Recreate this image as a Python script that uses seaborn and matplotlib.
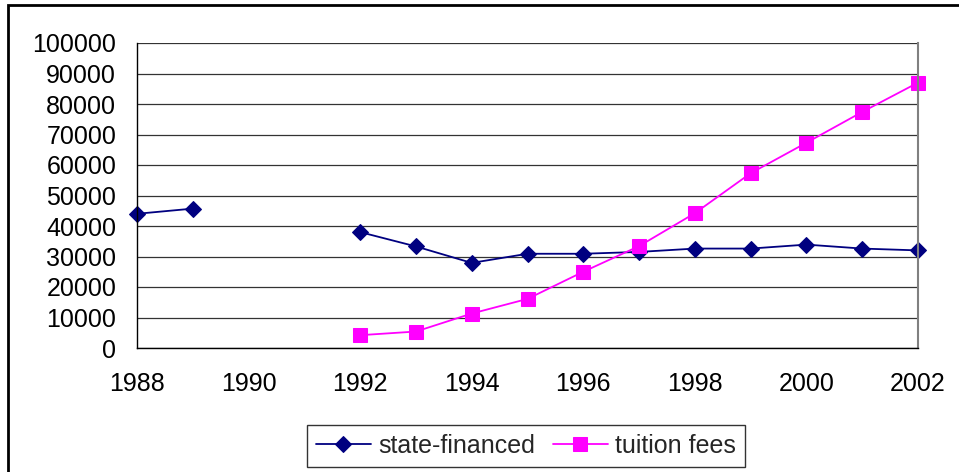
import numpy as np
import pandas as pd
import matplotlib
matplotlib.use("Agg")
import matplotlib.pyplot as plt
import seaborn as sns
from matplotlib.patches import Rectangle

years_state_a = [1988, 1989]
state_a = [44000, 45700]
years_state_b = [1992, 1993, 1994, 1995, 1996, 1997, 1998, 1999, 2000, 2001, 2002]
state_b = [38000, 33300, 27900, 30900, 30900, 31500, 32600, 32600, 33900, 32600, 32000]
years_fees = [1992, 1993, 1994, 1995, 1996, 1997, 1998, 1999, 2000, 2001, 2002]
fees = [4200, 5400, 11300, 16100, 25000, 33400, 44200, 57300, 67300, 77400, 87000]
x_ticks = [1988, 1990, 1992, 1994, 1996, 1998, 2000, 2002]
y_ticks = [0, 10000, 20000, 30000, 40000, 50000, 60000, 70000, 80000, 90000, 100000]

sns.set_style("white")
plt.rcParams['font.family'] = ['Liberation Sans', 'DejaVu Sans']

fig = plt.figure(figsize=(9.59, 4.72), dpi=100)
ax = fig.add_axes([137/959, 1-348/472, (918-137)/959, (348-43)/472])

navy = "#000080"
mag = "#FF00FF"

df_a = pd.DataFrame({"year": years_state_a, "value": state_a})
df_b = pd.DataFrame({"year": years_state_b, "value": state_b})
df_f = pd.DataFrame({"year": years_fees, "value": fees})

sns.lineplot(data=df_a, x="year", y="value", ax=ax, color=navy, marker="D",
             markersize=8, markeredgecolor=navy, linewidth=1.3, clip_on=False)
sns.lineplot(data=df_b, x="year", y="value", ax=ax, color=navy, marker="D",
             markersize=8, markeredgecolor=navy, linewidth=1.3, label="state-financed",
             clip_on=False)
sns.lineplot(data=df_f, x="year", y="value", ax=ax, color=mag, marker="s",
             markersize=9.5, markeredgecolor=mag, linewidth=1.3, label="tuition fees",
             clip_on=False)

ax.set_xlim(1988, 2002)
ax.set_ylim(0, 100000)
ax.set_xticks(x_ticks)
ax.set_yticks(y_ticks)
ax.set_xticklabels([str(t) for t in x_ticks])
ax.set_yticklabels([str(t) for t in y_ticks])
ax.set_xlabel("")
ax.set_ylabel("")
ax.tick_params(axis="both", labelsize=18, length=6.5, width=1, direction="out",
               colors="black")
ax.tick_params(axis="y", pad=8.5)
ax.tick_params(axis="x", pad=11)
ax.grid(axis="y", color="#333333", linewidth=0.9)
ax.set_axisbelow(True)
for s in ["left", "bottom"]:
    ax.spines[s].set_color("black")
    ax.spines[s].set_linewidth(1.0)
ax.spines["right"].set_color("#808080")
ax.spines["right"].set_linewidth(1.5)
ax.spines["top"].set_visible(False)

if ax.legend_:
    ax.legend_.remove()
handles, labels = ax.get_legend_handles_labels()
leg = fig.legend(handles, labels, loc="center", bbox_to_anchor=(526/959, 1-446/472),
                 ncol=2, frameon=True, fancybox=False, fontsize=18,
                 handlelength=2.2, columnspacing=0.7, handletextpad=0.3,
                 borderpad=0.35, borderaxespad=0, edgecolor="black")
leg.get_frame().set_linewidth(1.0)

fig.patches.append(Rectangle((8/959, -0.1), 1.2, 1 - 5/472 + 0.1, transform=fig.transFigure,
                             fill=False, edgecolor="black", linewidth=2, zorder=10))

fig.savefig("out.png", dpi=100)
